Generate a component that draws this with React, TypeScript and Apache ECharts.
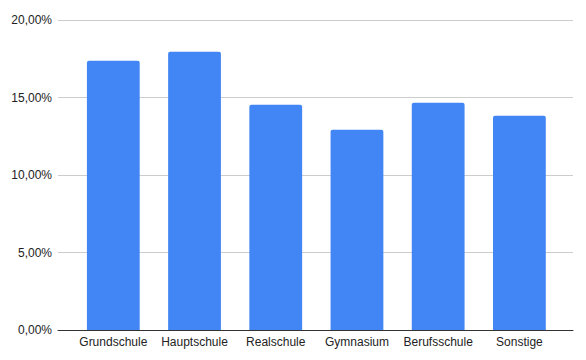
import React, { useEffect, useRef } from "react";
import * as echarts from "echarts";

const categories = ["Grundschule", "Hauptschule", "Realschule", "Gymnasium", "Berufsschule", "Sonstige"];
const values = [17.37, 17.95, 14.53, 12.92, 14.66, 13.82];
const yTicks = { min: 0, max: 20, interval: 5 };

export default function App() {
  const ref = useRef<HTMLDivElement>(null);
  useEffect(() => {
    if (!ref.current) return;
    const chart = echarts.init(ref.current, undefined, { renderer: "svg" });
    const font = { color: "#222222", fontFamily: "Liberation Sans, Arial, sans-serif", fontSize: 12 };
    chart.setOption({
      animation: false,
      grid: [
        { left: 58, right: 13, top: 20, bottom: 30 },
        { left: 72.7, right: 26, top: 20, bottom: 30 },
      ],
      xAxis: [
        {
          gridIndex: 0,
          type: "category",
          data: [""],
          axisTick: { show: false },
          axisLabel: { show: false },
          axisLine: { lineStyle: { color: "#333333", width: 1 } },
          z: 5,
        },
        {
          gridIndex: 1,
          type: "category",
          data: categories,
          axisTick: { show: false },
          axisLine: { show: false },
          axisLabel: { ...font, margin: 6, interval: 0 },
        },
      ],
      yAxis: [
        {
          gridIndex: 0,
          type: "value",
          ...yTicks,
          axisLine: { show: false },
          axisTick: { show: false },
          splitLine: { lineStyle: { color: "#cccccc", width: 1 } },
          axisLabel: {
            ...font,
            margin: 6,
            formatter: (v: number) => v.toFixed(2).replace(".", ",") + "%",
          },
        },
        {
          gridIndex: 1,
          type: "value",
          ...yTicks,
          show: false,
          splitLine: { show: false },
        },
      ],
      series: [
        {
          type: "bar",
          xAxisIndex: 1,
          yAxisIndex: 1,
          data: values,
          barCategoryGap: "35%",
          itemStyle: { color: "#4285F4", borderRadius: [2, 2, 0, 0] },
        },
      ],
    });
    return () => chart.dispose();
  }, []);
  return <div ref={ref} style={{ width: 586, height: 360, position: "absolute", left: 0, top: 0 }} />;
}
